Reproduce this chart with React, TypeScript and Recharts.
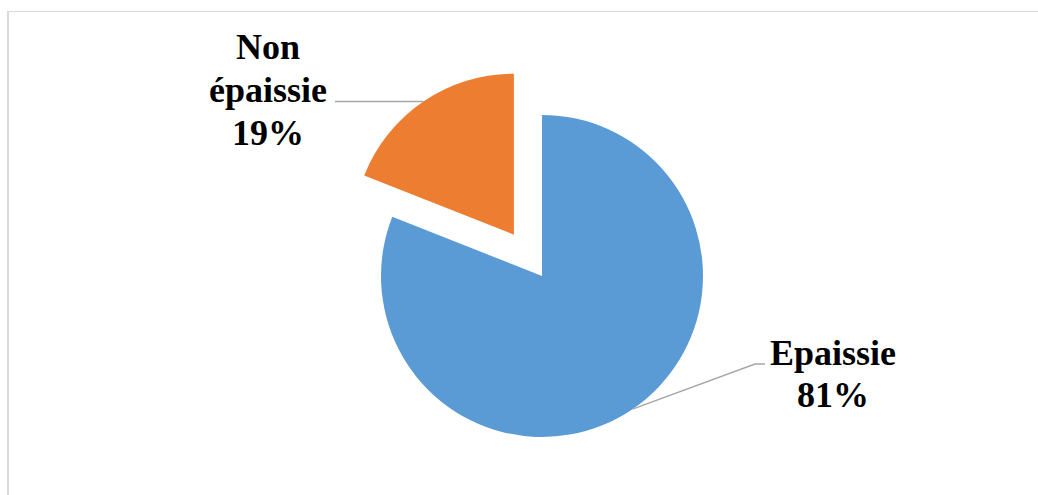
import { Cell, Pie, PieChart } from "recharts";

const categories = ["Epaissie", "Non épaissie"];
const values = [81, 19];
const colors = ["#5B9BD5", "#ED7D31"];
const labelLines = [["Epaissie", "81%"], ["Non", "épaissie", "19%"]];

const data = categories.map((name, i) => ({ name, value: values[i] }));

const W = 1038;
const H = 495;
const CX = 542;
const CY = 276;
const R = 161;
const EXPLODE = 50;
const RAD = Math.PI / 180;

// mid angle of the exploded slice (clockwise from 12 o'clock)
const total = values.reduce((s, v) => s + v, 0);
const orangeMid = 90 - ((values[0] + values[1] / 2) / total) * 360;
const OX = CX + EXPLODE * Math.cos(orangeMid * RAD);
const OY = CY - EXPLODE * Math.sin(orangeMid * RAD);

const textStyle = {
  fontFamily: "'Liberation Serif', 'Times New Roman', serif",
  fontWeight: 700,
  fontSize: 36,
  fill: "#000",
};

function makeLabel(which: number) {
  return (p: any) => {
    if (p.index !== which) return null;
    const sx = p.cx + p.outerRadius * Math.cos(-p.midAngle * RAD);
    const sy = p.cy + p.outerRadius * Math.sin(-p.midAngle * RAD);
    const lines = labelLines[which];
    if (which === 0) {
      return (
        <g>
          <polyline
            points={`${sx},${sy} 755,364 765,364`}
            fill="none"
            stroke="#A6A6A6"
            strokeWidth={1.5}
          />
          {lines.map((t, i) => (
            <text key={t} x={833} y={365 + i * 42} textAnchor="middle" style={textStyle}>
              {t}
            </text>
          ))}
        </g>
      );
    }
    return (
      <g>
        <polyline
          points={`${sx},${sy} 335,${sy}`}
          fill="none"
          stroke="#A6A6A6"
          strokeWidth={1.5}
        />
        {lines.map((t, i) => (
          <text key={t} x={268} y={59 + i * 43} textAnchor="middle" style={textStyle}>
            {t}
          </text>
        ))}
      </g>
    );
  };
}

export default function App() {
  return (
    <div
      style={{
        position: "absolute",
        left: 0,
        top: 0,
        width: W,
        height: H,
        background: "#fff",
        overflow: "hidden",
      }}
    >
      <div
        style={{
          position: "absolute",
          left: 7,
          top: 11,
          width: W,
          height: H,
          borderTop: "1px solid #D9D9D9",
          borderLeft: "2px solid #D9D9D9",
        }}
      />
      <div style={{ position: "absolute", left: 0, top: 0 }}>
        <PieChart width={W} height={H} margin={{ top: 0, right: 0, bottom: 0, left: 0 }}>
          <Pie
            data={data}
            dataKey="value"
            nameKey="name"
            cx={CX}
            cy={CY}
            outerRadius={R}
            startAngle={90}
            endAngle={-270}
            stroke="none"
            label={makeLabel(0)}
            labelLine={false}
            isAnimationActive={false}
          >
            {data.map((d, i) => (
              <Cell key={d.name} fill={i === 0 ? colors[0] : "transparent"} />
            ))}
          </Pie>
          <Pie
            data={data}
            dataKey="value"
            nameKey="name"
            cx={OX}
            cy={OY}
            outerRadius={R}
            startAngle={90}
            endAngle={-270}
            stroke="none"
            label={makeLabel(1)}
            labelLine={false}
            isAnimationActive={false}
          >
            {data.map((d, i) => (
              <Cell key={d.name} fill={i === 1 ? colors[1] : "transparent"} />
            ))}
          </Pie>
        </PieChart>
      </div>
    </div>
  );
}
